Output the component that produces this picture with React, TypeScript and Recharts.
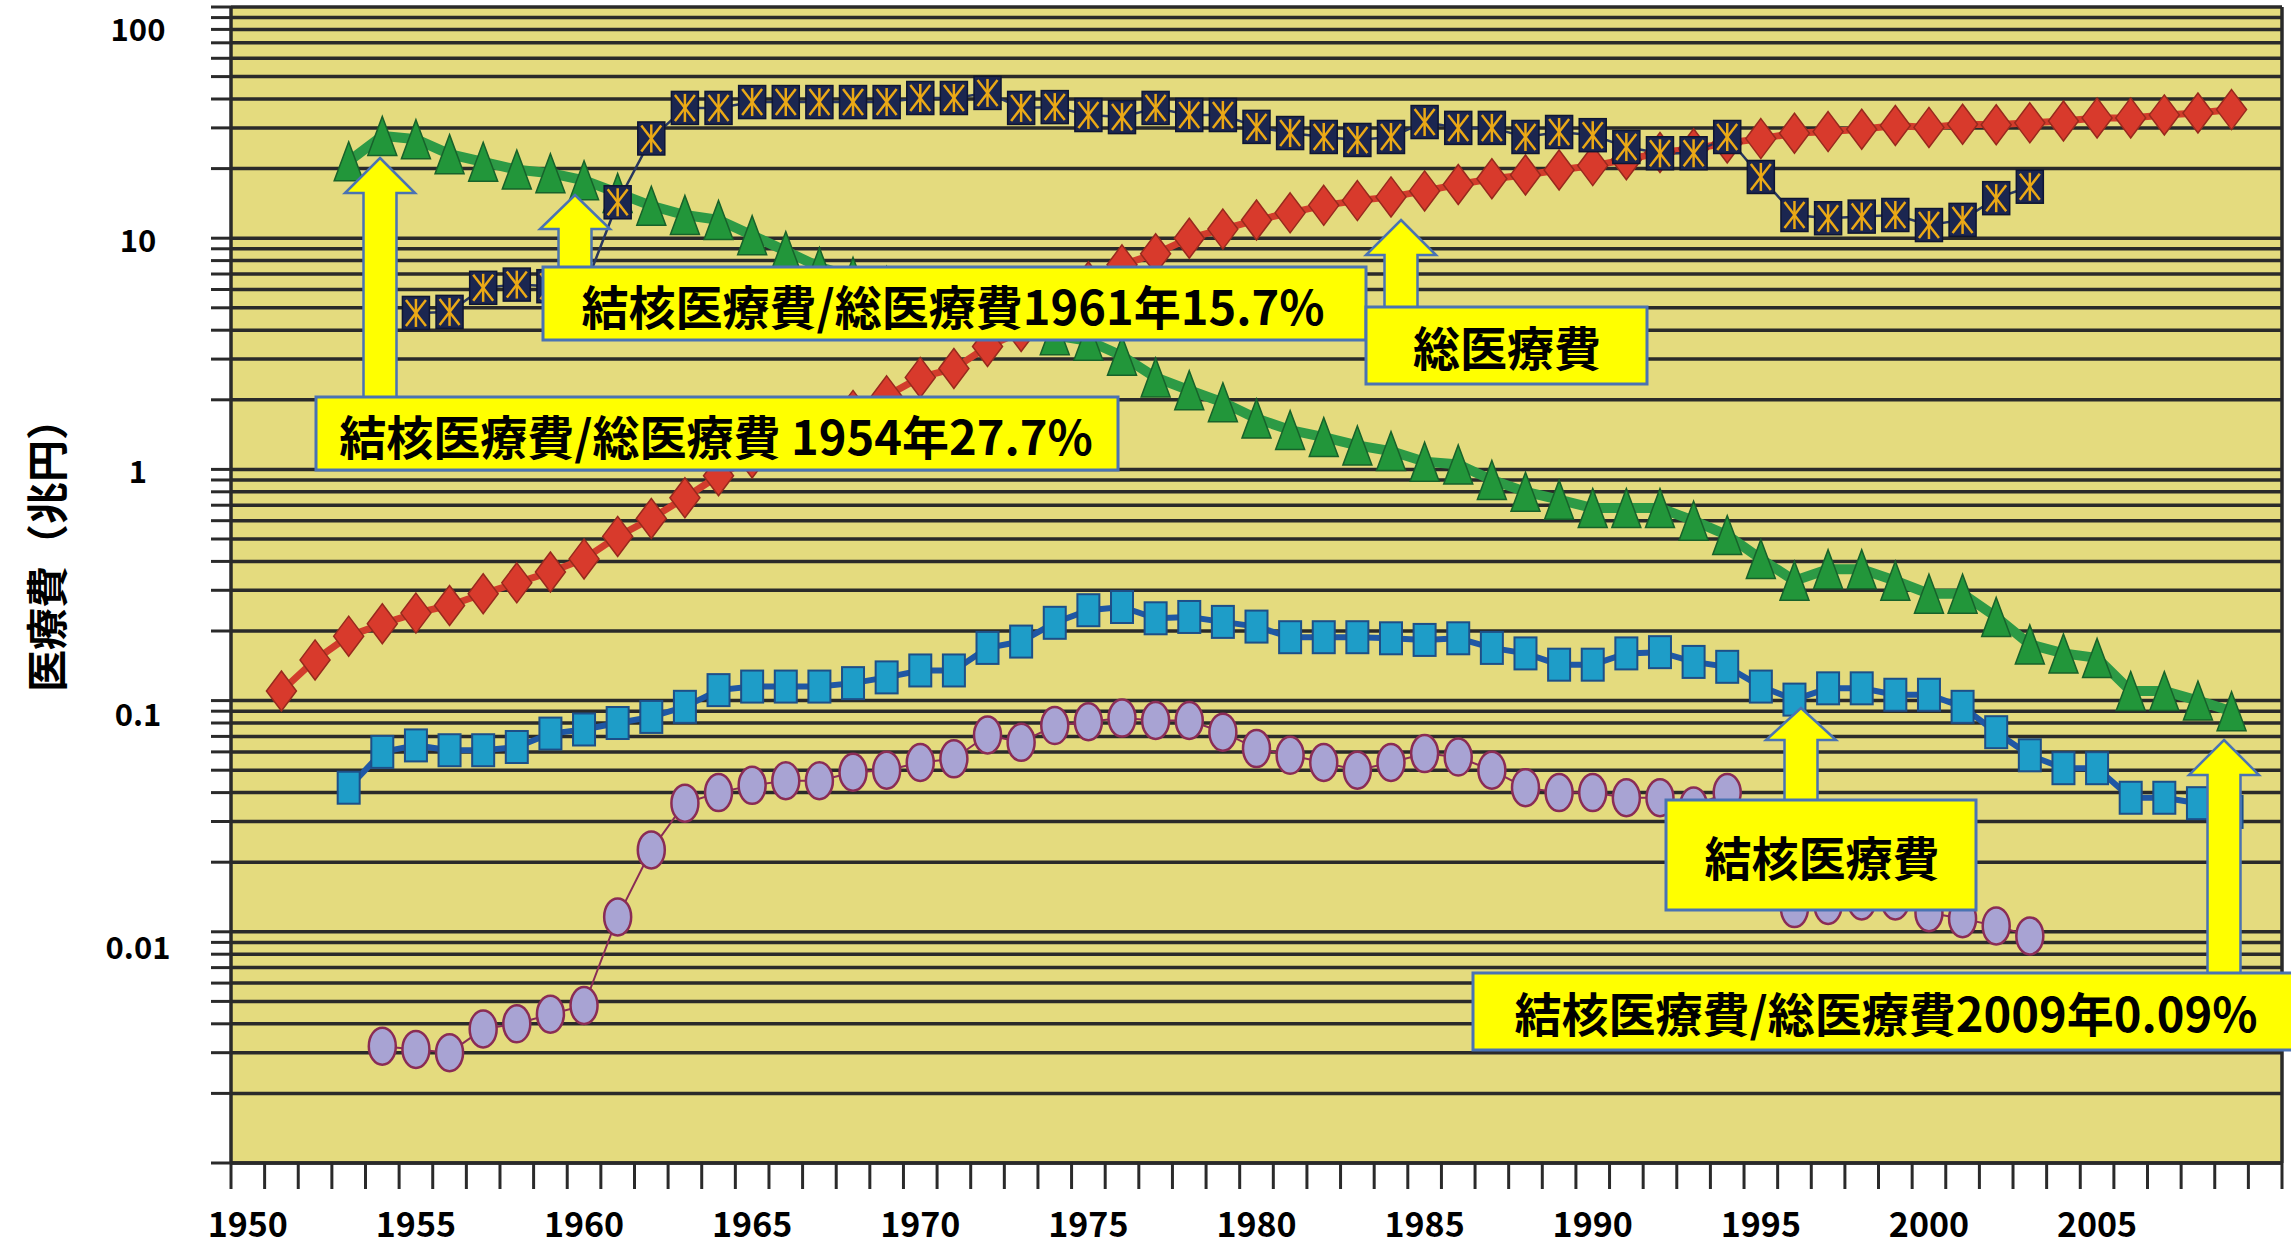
import React from "react";
import { LineChart, Line, XAxis, YAxis, CartesianGrid, ReferenceLine } from "recharts";

const W = 2291;
const H = 1247;
const FONT = '"Noto Sans CJK JP", "Noto Sans", sans-serif';

// 総医療費 (兆円), 1951-2009
const totalStart = 1951;
const totalCost = [
  0.11, 0.15, 0.19, 0.215, 0.239, 0.258, 0.29, 0.323, 0.36, 0.41,
  0.513, 0.613, 0.754, 0.939, 1.12, 1.3, 1.51, 1.8, 2.08, 2.5,
  2.73, 3.4, 3.95, 5.38, 6.48, 7.67, 8.57, 10.0, 10.95, 11.98,
  12.87, 13.87, 14.54, 15.09, 16.02, 17.07, 18.08, 18.76, 19.73, 20.61,
  21.83, 23.48, 24.36, 25.79, 26.96, 28.45, 28.91, 29.58, 30.7, 30.14,
  31.12, 30.95, 31.54, 32.11, 33.13, 33.13, 34.14, 34.81, 36.0,
];

// 結核医療費/総医療費 (%), 1953-2009
const ratioStart = 1953;
const tbRatio = [
  21.5, 27.7, 26.8, 23.1, 21.4, 19.8, 19.1, 17.8, 15.7, 13.8,
  12.6, 12.0, 10.3, 8.8, 7.5, 6.8, 6.2, 5.7, 5.2, 5.0,
  4.6, 3.8, 3.6, 3.1, 2.5, 2.2, 1.95, 1.66, 1.48, 1.38,
  1.27, 1.2, 1.08, 1.05, 0.9, 0.8, 0.74, 0.68, 0.68, 0.68,
  0.6, 0.52, 0.41, 0.33, 0.37, 0.37, 0.33, 0.29, 0.29, 0.23,
  0.175, 0.16, 0.153, 0.11, 0.11, 0.1, 0.09,
];

// 結核医療費 (兆円), 1953-2009
const tbStart = 1953;
const tbCost = [
  0.042, 0.06, 0.064, 0.061, 0.061, 0.063, 0.072, 0.075, 0.08, 0.085,
  0.094, 0.111, 0.115, 0.115, 0.115, 0.119, 0.126, 0.135, 0.135, 0.169,
  0.18, 0.217, 0.246, 0.254, 0.227, 0.23, 0.219, 0.209, 0.188, 0.188,
  0.188, 0.186, 0.183, 0.186, 0.169, 0.16, 0.143, 0.143, 0.16, 0.162,
  0.147, 0.14, 0.115, 0.101, 0.113, 0.113, 0.106, 0.106, 0.094, 0.073,
  0.058, 0.051, 0.051, 0.038, 0.038, 0.036, 0.033,
];

// navy square series, 1955-2003
const crossStart = 1955;
const crossSeries = [
  4.75, 4.8, 6.1, 6.3, 6.2, 6.0, 14.3, 27, 36.6, 36.6,
  38.8, 38.8, 38.8, 38.8, 38.8, 40.4, 40.4, 42.5, 36.6, 36.9,
  34.1, 33.4, 36.6, 34.1, 34.1, 30.3, 28.5, 27.4, 26.6, 27.4,
  31.8, 30.0, 30.0, 27.4, 28.8, 27.9, 24.8, 23.3, 23.3, 27.4,
  18.4, 12.6, 12.2, 12.4, 12.6, 11.4, 12.0, 14.9, 16.7,
];

// lavender circle series, 1954-2003
const ovalStart = 1954;
const ovalSeries = [
  0.0032, 0.0031, 0.003, 0.0038, 0.004, 0.0044, 0.0048, 0.0116, 0.0226, 0.036,
  0.04, 0.043, 0.045, 0.045, 0.049, 0.05, 0.054, 0.056, 0.071, 0.066,
  0.078, 0.081, 0.084, 0.082, 0.082, 0.073, 0.062, 0.058, 0.054, 0.05,
  0.054, 0.059, 0.057, 0.05, 0.042, 0.04, 0.04, 0.038, 0.038, 0.035,
  0.04, 0.025, 0.0126, 0.013, 0.0136, 0.0136, 0.0121, 0.0114, 0.0106, 0.0096,
];

const firstYear = 1951;
const lastYear = 2009;
const years = Array.from({ length: lastYear - firstYear + 1 }, (_, i) => firstYear + i);
const labelYears = [1950, 1955, 1960, 1965, 1970, 1975, 1980, 1985, 1990, 1995, 2000, 2005];
const yearEdges = Array.from({ length: 62 }, (_, i) => 1949.5 + i);

const decadeValues = [0.01, 0.1, 1, 10, 100];
const decadeLabels = ["0.01", "0.1", "1", "10", "100"];
const gridValues = [0.001, 0.01, 0.1, 1, 10]
  .flatMap((d) => [1, 2, 3, 4, 5, 6, 7, 8, 9].map((k) => +(d * k).toPrecision(3)))
  .concat([100]);

const pick = (arr: number[], start: number, year: number) => {
  const v = arr[year - start];
  return v === undefined ? null : v;
};

const rows = years.map((year) => ({
  year,
  total: pick(totalCost, totalStart, year),
  ratio: pick(tbRatio, ratioStart, year),
  tb: pick(tbCost, tbStart, year),
  cross: pick(crossSeries, crossStart, year),
  oval: pick(ovalSeries, ovalStart, year),
}));

const DARK = "#2a2a2a";

function makeDot(render: (cx: number, cy: number) => React.ReactNode) {
  return (props: any) => {
    const { cx, cy, index, value } = props;
    if (cx == null || cy == null || value == null) return <g key={`e-${index}`} />;
    return <g key={`d-${index}`}>{render(cx, cy)}</g>;
  };
}

const diamondDot = makeDot((cx, cy) => (
  <polygon
    points={`${cx},${cy - 20} ${cx + 15},${cy} ${cx},${cy + 20} ${cx - 15},${cy}`}
    fill="#D83A2C"
    stroke="#98291D"
    strokeWidth={1.5}
  />
));

const triangleDot = makeDot((cx, cy) => (
  <polygon
    points={`${cx},${cy - 19.5} ${cx + 14.5},${cy + 19.5} ${cx - 14.5},${cy + 19.5}`}
    fill="#22963A"
    stroke="#17622A"
    strokeWidth={1.5}
  />
));

const squareDot = makeDot((cx, cy) => (
  <rect x={cx - 11} y={cy - 16} width={22} height={32} fill="#1E9DC8" stroke="#1D4F88" strokeWidth={2} />
));

const crossDot = makeDot((cx, cy) => (
  <g>
    <rect x={cx - 13.5} y={cy - 16.5} width={27} height={33} fill="#1B2650" stroke="#0E1533" strokeWidth={1.5} />
    <g stroke="#EBA916" strokeWidth={2.5}>
      <line x1={cx - 10} y1={cy - 13} x2={cx + 10} y2={cy + 13} />
      <line x1={cx + 10} y1={cy - 13} x2={cx - 10} y2={cy + 13} />
      <line x1={cx} y1={cy - 14} x2={cx} y2={cy + 14} />
    </g>
  </g>
));

const ovalDot = makeDot((cx, cy) => (
  <ellipse cx={cx} cy={cy} rx={13.5} ry={18.5} fill="#A8A3D3" stroke="#8A2C55" strokeWidth={2.5} />
));

function YTick(props: any) {
  const { x, y, payload } = props;
  const i = decadeValues.findIndex((d) => Math.abs(Math.log10(d) - Math.log10(payload.value)) < 1e-6);
  if (i < 0) return <g />;
  const shift = [14, 12, 0, 0, 20][i];
  return (
    <text
      x={x - 71}
      y={y + shift}
      textAnchor="middle"
      dominantBaseline="central"
      fontFamily={FONT}
      fontWeight={700}
      fontSize={31}
      fill="#000"
    >
      {decadeLabels[i]}
    </text>
  );
}

function YTitle() {
  return (
    <text
      x={44}
      y={545}
      transform="rotate(-90 44 545)"
      textAnchor="middle"
      dominantBaseline="central"
      fontFamily={FONT}
      fontWeight={700}
      fontSize={42}
      fill="#000"
    >
      医療費（兆円）
    </text>
  );
}

const boxes = [
  { x: 543, y: 267, w: 823, h: 73, cx: 953, cy: 304, text: "結核医療費/総医療費1961年15.7%" },
  { x: 316, y: 397, w: 802, h: 73, cx: 716, cy: 434, text: "結核医療費/総医療費 1954年27.7%" },
  { x: 1366, y: 307, w: 281, h: 77, cx: 1507, cy: 345, text: "総医療費" },
  { x: 1666, y: 800, w: 310, h: 110, cx: 1822, cy: 855, text: "結核医療費" },
  { x: 1473, y: 973, w: 830, h: 77, cx: 1886, cy: 1011, text: "結核医療費/総医療費2009年0.09%" },
];

const arrows = [
  { cx: 575, tip: 195, head: 229, bottom: 268 },
  { cx: 380, tip: 158, head: 193, bottom: 398 },
  { cx: 1401, tip: 220, head: 255, bottom: 308 },
  { cx: 1801, tip: 708, head: 740, bottom: 801 },
  { cx: 2224, tip: 740, head: 775, bottom: 974 },
];

function Annotations() {
  return (
    <svg width={W} height={H} style={{ position: "absolute", left: 0, top: 0, pointerEvents: "none" }}>
      {arrows.map((a, i) => {
        const hw = 35;
        const sw = 16.5;
        const pts = [
          [a.cx, a.tip],
          [a.cx + hw, a.head],
          [a.cx + sw, a.head],
          [a.cx + sw, a.bottom],
          [a.cx - sw, a.bottom],
          [a.cx - sw, a.head],
          [a.cx - hw, a.head],
        ]
          .map((p) => p.join(","))
          .join(" ");
        return <polygon key={`a${i}`} points={pts} fill="#FFFF00" stroke="#4A73B3" strokeWidth={2.5} />;
      })}
      {boxes.map((b, i) => (
        <g key={`b${i}`}>
          <rect x={b.x} y={b.y} width={b.w} height={b.h} fill="#FFFF00" stroke="#4A73B3" strokeWidth={3} />
          <text
            x={b.cx}
            y={b.cy}
            textAnchor="middle"
            dominantBaseline="central"
            fontFamily={FONT}
            fontWeight={700}
            fontSize={47}
            fill="#000"
          >
            {b.text}
          </text>
        </g>
      ))}
    </svg>
  );
}

export default function App() {
  return (
    <div style={{ position: "absolute", left: 0, top: 0, width: W, height: H, background: "#fff" }}>
      <LineChart width={W} height={H} data={rows} margin={{ top: 7, right: 9, left: 0, bottom: 0 }}>
        <CartesianGrid
          xAxisId="a"
          vertical={false}
          fill="#E4DB7E"
          fillOpacity={1}
          stroke={DARK}
          strokeWidth={3.5}
        />
        <XAxis
          xAxisId="a"
          dataKey="year"
          type="number"
          domain={[1949.5, 2010.5]}
          ticks={yearEdges}
          interval={0}
          height={30}
          tickSize={26}
          tickLine={{ stroke: DARK, strokeWidth: 3 }}
          axisLine={{ stroke: DARK, strokeWidth: 3.5 }}
          tick={() => <g />}
          allowDataOverflow
        />
        <XAxis
          xAxisId="b"
          dataKey="year"
          type="number"
          domain={[1949.5, 2010.5]}
          ticks={labelYears}
          interval={0}
          height={54}
          tickSize={0}
          tickMargin={20}
          tickLine={false}
          axisLine={false}
          tick={{ fontFamily: FONT, fontWeight: 700, fontSize: 34, fill: "#000" }}
          allowDataOverflow
        />
        <YAxis
          type="number"
          scale="log"
          domain={[0.001, 100]}
          ticks={gridValues}
          interval={0}
          width={231}
          tickSize={20}
          tickLine={{ stroke: DARK, strokeWidth: 3 }}
          axisLine={{ stroke: DARK, strokeWidth: 3.5 }}
          tick={<YTick />}
          label={<YTitle />}
          allowDataOverflow
        />
        <ReferenceLine xAxisId="a" x={2010.5} stroke={DARK} strokeWidth={3.5} />
        <Line
          xAxisId="a"
          dataKey="ratio"
          type="linear"
          stroke="#2C9A45"
          strokeWidth={10}
          dot={triangleDot}
          activeDot={false}
          isAnimationActive={false}
        />
        <Line
          xAxisId="a"
          dataKey="total"
          type="linear"
          stroke="#D23C2C"
          strokeWidth={7}
          dot={diamondDot}
          activeDot={false}
          isAnimationActive={false}
        />
        <Line
          xAxisId="a"
          dataKey="tb"
          type="linear"
          stroke="#1F57A5"
          strokeWidth={6}
          dot={squareDot}
          activeDot={false}
          isAnimationActive={false}
        />
        <Line
          xAxisId="a"
          dataKey="oval"
          type="linear"
          stroke="#8A2C55"
          strokeWidth={2}
          dot={ovalDot}
          activeDot={false}
          isAnimationActive={false}
        />
        <Line
          xAxisId="a"
          dataKey="cross"
          type="linear"
          stroke="#27365F"
          strokeWidth={2.5}
          dot={crossDot}
          activeDot={false}
          isAnimationActive={false}
        />
      </LineChart>
      <Annotations />
    </div>
  );
}
